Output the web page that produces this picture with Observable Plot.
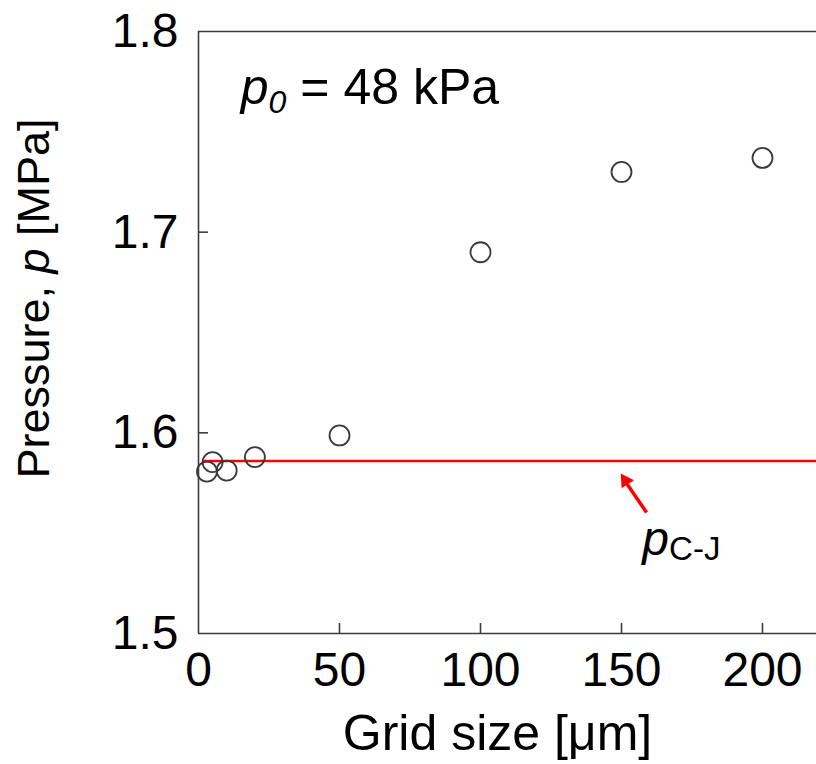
<!DOCTYPE html>
<html>
<head>
<meta charset="utf-8">
<script src="https://cdn.jsdelivr.net/npm/d3@7"></script>
<script src="https://cdn.jsdelivr.net/npm/@observablehq/plot@0.6"></script>
<style>
  html, body { margin: 0; padding: 0; background: #fff; }
  #chart svg { display: block; }
</style>
</head>
<body>
<div id="chart"></div>
<script>
// Peak pressure versus computational grid size, with the Chapman–Jouguet value
const gridSize = [3, 5, 10, 20, 50, 100, 150, 200];           // µm
const pressure = [1.5807, 1.5854, 1.5812, 1.5879, 1.5987, 1.690, 1.730, 1.737]; // MPa
const pCJ = 1.586;                                             // MPa
const xTicks = [0, 50, 100, 150, 200];
const yTicks = [1.5, 1.6, 1.7, 1.8];
const xDomain = [0, 220];
const yDomain = [1.5, 1.8];

// annotation anchors (data coordinates)
const p0Label = {x: 15, y: 1.764, text: "p0 = 48 kPa"};
const cjLabel = {x: 157.4, y: 1.539, text: "pC-J"};
const cjArrow = {x1: 158.9, y1: 1.5603, x2: 151.6, y2: 1.5752, xh: 151.4, yh: 1.5762};

const points = gridSize.map((g, i) => ({grid: g, p: pressure[i]}));

const W = 816, H = 764;
const font = "'Liberation Sans', Arial, Helvetica, sans-serif";
const axisColor = "#3c3c3c";

const chart = Plot.plot({
  width: W,
  height: H,
  marginLeft: 198,
  marginRight: 0,
  marginTop: 31,
  marginBottom: 131,
  style: {fontFamily: font, background: "#fff", color: "#000"},
  x: {domain: xDomain, range: [198, 198 + 220 * 2.82]},
  y: {domain: yDomain},
  marks: [
    // frame: left, bottom and top edges
    Plot.ruleX([xDomain[0]], {y1: yDomain[0], y2: yDomain[1], stroke: axisColor, strokeWidth: 1.6}),
    Plot.ruleY([yDomain[0]], {stroke: axisColor, strokeWidth: 1.6}),
    Plot.ruleY([yDomain[1]], {stroke: axisColor, strokeWidth: 1.6}),
    // inward ticks
    Plot.tickY(yTicks.slice(1, -1), {y: d => d, insetRight: 608, stroke: axisColor, strokeWidth: 1.6}),
    Plot.tickX(xTicks.slice(1), {x: d => d, insetTop: 592, stroke: axisColor, strokeWidth: 1.6}),
    // tick labels
    Plot.axisY({ticks: yTicks, tickSize: 0, tickPadding: 20, tickFormat: d3.format(".1f"),
                fontSize: 48, label: null}),
    Plot.axisX({ticks: xTicks, tickSize: 0, tickPadding: 18, tickFormat: d => String(d),
                fontSize: 48, label: null}),
    // Chapman–Jouguet pressure
    Plot.ruleY([pCJ], {stroke: "#ff0000", strokeWidth: 2.6, insetLeft: 4}),
    // simulation results
    Plot.dot(points, {x: "grid", y: "p", r: 10, stroke: "#3a3a3a", strokeWidth: 1.8, fill: "none"}),
    // arrow pointing at the C–J line
    Plot.link([cjArrow], {x1: "x1", y1: "y1", x2: "x2", y2: "y2", stroke: "#ff0000", strokeWidth: 3.5}),
    Plot.dot([cjArrow], {x: "xh", y: "yh", symbol: "triangle", r: 5.5, fill: "#ff0000",
                         rotate: -33}),
    // labels
    Plot.text([p0Label], {x: "x", y: "y", text: "text", textAnchor: "start", lineAnchor: "bottom",
                          fontSize: 50, fill: "#000"}),
    Plot.text([cjLabel], {x: "x", y: "y", text: "text", textAnchor: "start", lineAnchor: "bottom",
                          fontSize: 48, fill: "#000"}),
    // axis titles
    Plot.text(["Grid size [μm]"], {frameAnchor: "bottom", text: d => d, dx: -10, dy: 116,
                                    textAnchor: "middle", lineAnchor: "bottom", fontSize: 50, fill: "#000"}),
    Plot.text(["Pressure, p [MPa]"], {frameAnchor: "left", text: d => d, rotate: -90, dx: -150, dy: -34,
                                       textAnchor: "middle", lineAnchor: "bottom", fontSize: 45, fill: "#000"})
  ]
});

// italic symbols and subscripts inside the labels
const rich = {
  "p0 = 48 kPa": '<tspan font-style="italic">p</tspan><tspan font-style="italic" font-size="32" dy="9">0</tspan><tspan dy="-9"> = 48 kPa</tspan>',
  "pC-J": '<tspan font-style="italic">p</tspan><tspan font-size="33" dy="5">C-J</tspan>',
  "Pressure, p [MPa]": 'Pressure, <tspan font-style="italic">p</tspan> [MPa]'
};
d3.select(chart).selectAll("text").each(function () {
  const t = this.textContent;
  if (rich[t]) this.innerHTML = rich[t];
});

document.getElementById("chart").appendChild(chart);
</script>
</body>
</html>
